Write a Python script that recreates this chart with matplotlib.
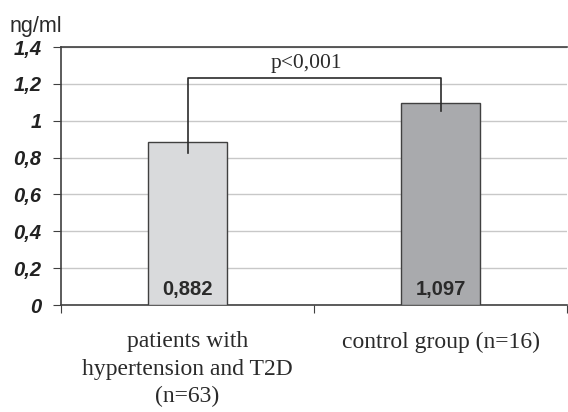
"""Bar chart: ng/ml in patients vs control group, with p-value bracket."""
import matplotlib
matplotlib.use("Agg")
import matplotlib.pyplot as plt

groups = ["patients with\nhypertension and T2D\n(n=63)", "control group (n=16)"]
means = [0.882, 1.097]
value_labels = ["0,882", "1,097"]
err_low = [0.825, 1.053]      # lower end of the bracket legs
bracket_top = 1.23
colors = ["#d9dadc", "#a9aaad"]
yticks = [0, 0.2, 0.4, 0.6, 0.8, 1.0, 1.2, 1.4]
ytick_labels = ["0", "0,2", "0,4", "0,6", "0,8", "1", "1,2", "1,4"]

SANS = "Liberation Sans"
SERIF = "Liberation Serif"

fig = plt.figure(figsize=(5.68, 4.12), dpi=100)
ax = fig.add_axes([0.1074, 0.2597, 0.8909, 0.6262])

x = range(len(groups))
ax.bar(x, means, width=0.31, color=colors, edgecolor="#404040", linewidth=1.0, zorder=3)

for i, lab in enumerate(value_labels):
    ax.text(i, 0.03, lab, ha="center", va="bottom", fontsize=14.5,
            fontweight="bold", family=SANS, color="#2a2a2a", zorder=4)

# bracket p<0,001
ax.plot([0, 0, 1, 1], [err_low[0], bracket_top, bracket_top, err_low[1]],
        color="#2a2a2a", linewidth=1.2, zorder=4)
ax.text(0.47, bracket_top + 0.03, "p<0,001", ha="center", va="bottom",
        fontsize=15.5, family=SERIF, color="#2a2a2a")

ax.set_xlim(-0.5, 1.5)
ax.set_ylim(0, 1.4)
ax.set_yticks(yticks)
ax.set_yticklabels(ytick_labels, fontsize=14.5, fontweight="bold",
                   fontstyle="italic", family=SANS, color="#222222")
ax.yaxis.grid(True, color="#c8c8c8", linewidth=1.0, zorder=0)
ax.set_axisbelow(True)

ax.set_xticks([-0.5, 0.5, 1.5])
ax.set_xticklabels([])
ax.set_xticks([0, 1], minor=True)
ax.set_xticklabels(groups, minor=True, fontsize=17, family=SERIF,
                   color="#2a2a2a", linespacing=1.4)
ax.tick_params(axis="x", which="minor", length=0, pad=19)
ax.tick_params(axis="x", which="major", direction="out", length=6, color="#404040")
ax.tick_params(axis="y", direction="out", length=6, color="#404040", pad=8)

ax.spines["right"].set_visible(False)
for s in ["left", "bottom", "top"]:
    ax.spines[s].set_color("#404040")
    ax.spines[s].set_linewidth(1.2)

fig.text(10 / 568, 1 - 32 / 412, "ng/ml", fontsize=15.5, family=SANS,
         color="#2a2a2a", ha="left", va="baseline")

fig.savefig("out.png", dpi=100)
